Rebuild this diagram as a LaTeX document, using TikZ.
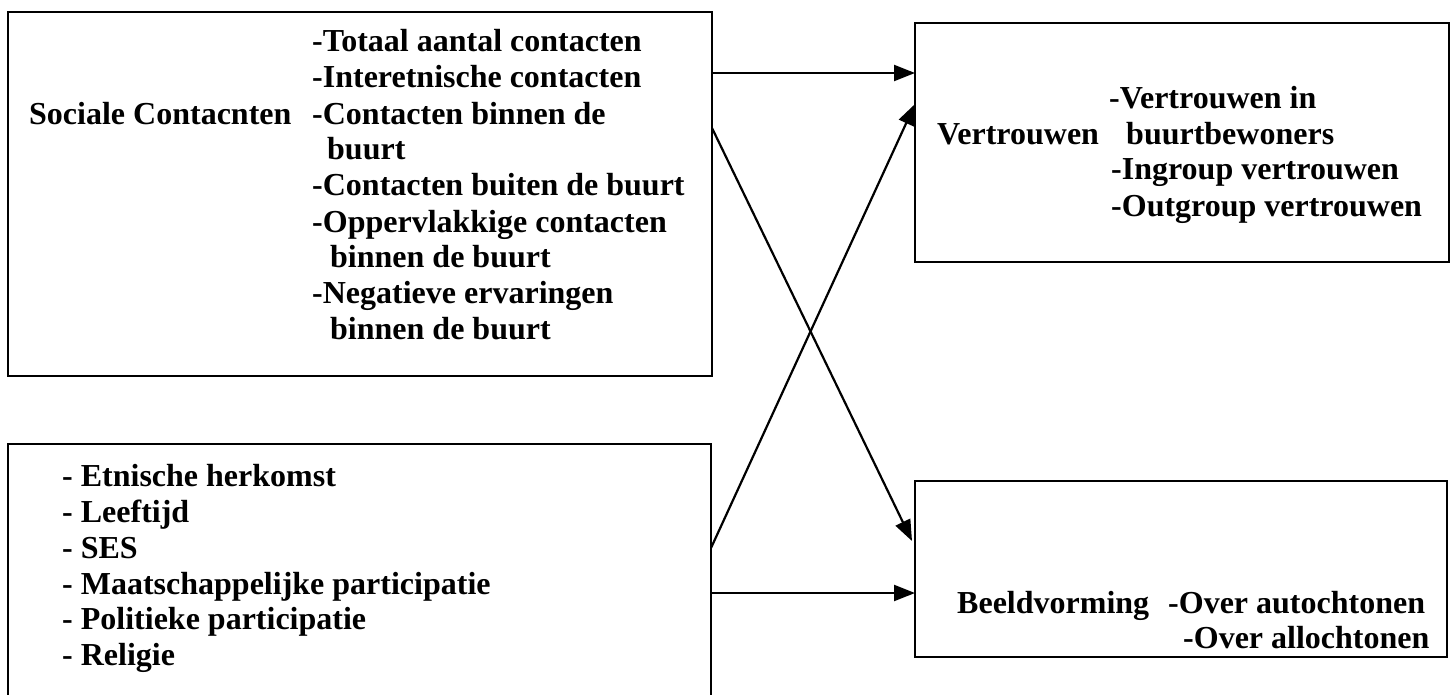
\documentclass[tikz,border=0pt]{standalone}
\usepackage{fontspec}
\setmainfont{Liberation Serif}
\usetikzlibrary{arrows.meta}
\begin{document}
\begin{tikzpicture}[x=1pt,y=-1pt,
  box/.style={draw,line width=2.6pt,anchor=north west,inner sep=0pt,outer sep=0pt},
  txt/.style={anchor=base west,inner sep=0pt,font=\fontsize{32}{36}\selectfont\bfseries},
  conn/.style={line width=2.2pt,-{Triangle[length=21pt,width=16pt]}}]
\useasboundingbox (0,0) rectangle (1455,695);
% boxes
\node[box,minimum width=704pt,minimum height=364pt] (s) at (8,12) {};
\node[box,minimum width=534pt,minimum height=239pt] (v) at (915,23) {};
\node[box,minimum width=703pt,minimum height=260pt] (a) at (8,444) {};
\node[box,minimum width=532pt,minimum height=176pt] (b) at (915,481) {};
% box 1 text
\node[txt] (sl) at (29,125) {Sociale Contacnten};
\node[txt] (s1) at (312,52) {-Totaal aantal contacten};
\node[txt] (s2) at (312,88) {-Interetnische contacten};
\node[txt] (s3) at (312,125) {-Contacten binnen de};
\node[txt] (s4) at (327,160) {buurt};
\node[txt] (s5) at (312,196) {-Contacten buiten de buurt};
\node[txt] (s6) at (312,232) {-Oppervlakkige contacten};
\node[txt] (s7) at (330,267) {binnen de buurt};
\node[txt] (s8) at (312,303) {-Negatieve ervaringen};
\node[txt] (s9) at (330,339) {binnen de buurt};
% box 2 text
\node[txt] (vl) at (937,145) {Vertrouwen};
\node[txt] (v1) at (1109,109) {-Vertrouwen in};
\node[txt] (v2) at (1126,145) {buurtbewoners};
\node[txt] (v3) at (1111,180) {-Ingroup vertrouwen};
\node[txt] (v4) at (1111,216) {-Outgroup vertrouwen};
% box 3 text
\node[txt] (a1) at (62,486) {- Etnische herkomst};
\node[txt] (a2) at (62,522) {- Leeftijd};
\node[txt] (a3) at (62,558) {- SES};
\node[txt] (a4) at (62,594) {- Maatschappelijke participatie};
\node[txt] (a5) at (62,629) {- Politieke participatie};
\node[txt] (a6) at (62,665) {- Religie};
% box 4 text
\node[txt] (bl) at (957,613) {Beeldvorming};
\node[txt] (b1) at (1168,613) {-Over autochtonen};
\node[txt] (b2) at (1183,648) {-Over allochtonen};
% connector end points on the box borders
\coordinate (p1) at (s.east |- 0,73);
\coordinate (q1) at (v.west |- 0,73);
\coordinate (p2) at (a.east |- 0,548);
\coordinate (q2) at (v.west |- 0,104);
\coordinate (p3) at (s.east |- 0,128);
\coordinate (q3) at (912,541);
\coordinate (p4) at (a.east |- 0,593);
\coordinate (q4) at (b.west |- 0,593);
\draw[conn] (p1) -- (q1);
\draw[conn] (p2) -- (q2);
\draw[conn] (p3) -- (q3);
\draw[conn] (p4) -- (q4);
\end{tikzpicture}
\end{document}
